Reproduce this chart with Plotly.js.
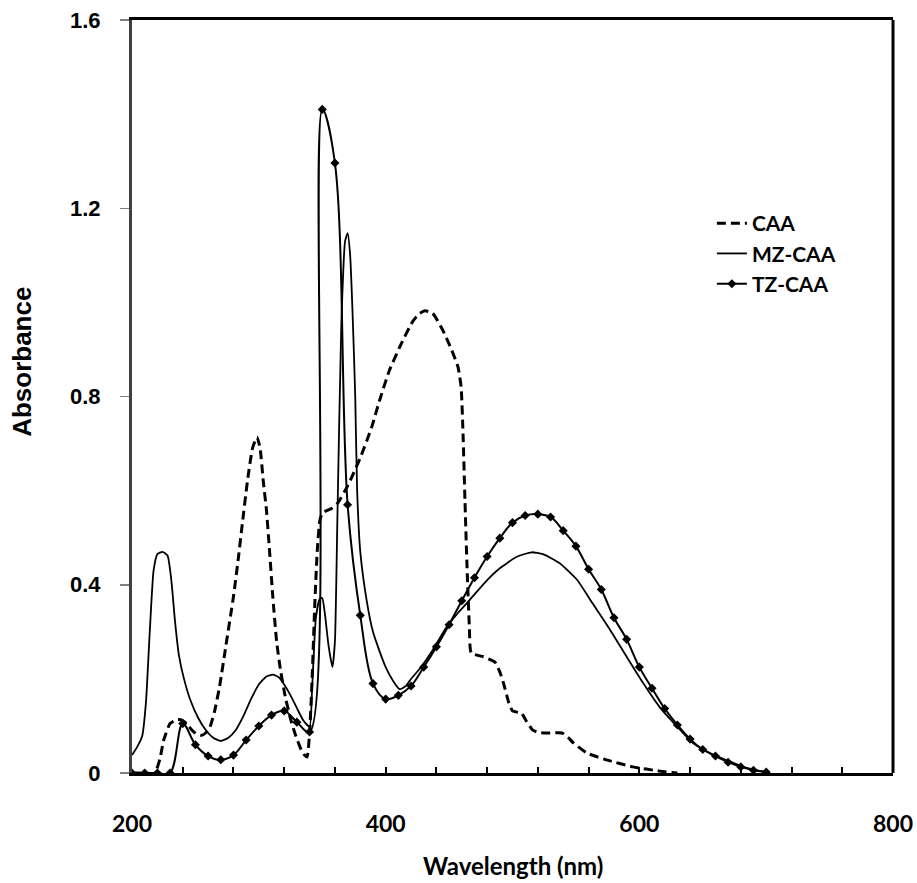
<!DOCTYPE html>
<html>
<head>
<meta charset="utf-8">
<script src="https://cdn.plot.ly/plotly-3.0.1.min.js"></script>
<style>html,body{margin:0;padding:0;background:#fff;}#chart{width:917px;height:883px;}</style>
</head>
<body>
<div id="chart"></div>
<script>
// CAA (dashed)
const caaX = [200,210,218,222,225,230,235,239,243,247,251,255,258,261.5,265,269,274,280,284,287,291,295,298.5,301,303.5,306,308.5,311,314,317,321,325,329,333,336,338,340,342,344,346,348,350,354,358,362,370,380,389,395,403,413,421,426,431,437,445,452,457,459.5,461,462.5,464,466,467.5,477,486,490,493,497,500,507,511,516,521,527,539,544,548,559,574,595,616,630];
const caaY = [0,0,0,0.03,0.07,0.105,0.113,0.113,0.105,0.092,0.082,0.08,0.085,0.098,0.13,0.183,0.27,0.375,0.46,0.53,0.62,0.69,0.714,0.69,0.62,0.559,0.47,0.375,0.28,0.22,0.16,0.115,0.08,0.052,0.038,0.034,0.085,0.2,0.35,0.47,0.535,0.552,0.558,0.563,0.573,0.61,0.67,0.735,0.79,0.856,0.916,0.958,0.975,0.982,0.977,0.941,0.899,0.863,0.82,0.72,0.58,0.45,0.31,0.255,0.247,0.236,0.215,0.19,0.15,0.132,0.127,0.11,0.091,0.086,0.085,0.085,0.075,0.064,0.042,0.028,0.013,0.004,0];

// MZ-CAA (solid)
const mzX = [200,204,208,211,214,217,220,224,228,231,234,237,241,246,252,258,264,270,276,282,288,294,300,306,311,316,320,325,330,335,340,342,345,348,350,352,355,358,360,362,365,368,370,372,374,376,377.5,380,385,390,395,400,406,411,416,420,427,437,448,457,466,480,490,503,515,524,537,551,563,577,590,603,616,630,642,656,669,682,692,700];
const mzY = [0.038,0.055,0.078,0.15,0.30,0.43,0.465,0.47,0.462,0.41,0.32,0.25,0.20,0.155,0.118,0.092,0.075,0.068,0.075,0.092,0.122,0.158,0.188,0.205,0.209,0.203,0.188,0.165,0.138,0.112,0.098,0.18,0.33,0.37,0.372,0.34,0.27,0.225,0.28,0.55,0.95,1.13,1.147,1.10,0.97,0.80,0.6,0.47,0.367,0.30,0.26,0.225,0.195,0.178,0.185,0.20,0.222,0.261,0.31,0.34,0.367,0.41,0.435,0.459,0.469,0.465,0.446,0.41,0.361,0.304,0.247,0.191,0.14,0.098,0.064,0.042,0.027,0.013,0.006,0.002];

// TZ-CAA (solid with diamond markers)
const tzX = [200,210,220,230,240,250,260,270,280,290,300,310,320,330,340,350,360,370,380,390,400,410,420,430,440,450,460,470,480,490,500,510,520,530,540,550,560,570,580,590,600,610,620,630,640,650,660,670,680,690,700];
const tzY = [0,0,0,0,0.105,0.06,0.036,0.028,0.038,0.07,0.1,0.123,0.132,0.108,0.087,1.41,1.296,0.57,0.335,0.19,0.157,0.165,0.185,0.225,0.268,0.315,0.366,0.415,0.46,0.499,0.532,0.547,0.55,0.544,0.515,0.482,0.433,0.39,0.33,0.284,0.225,0.18,0.137,0.102,0.072,0.05,0.036,0.023,0.013,0.006,0.002];

const seriesNames = ['CAA','MZ-CAA','TZ-CAA'];
const xTitle = 'Wavelength (nm)';
const yTitle = 'Absorbance';

const traces = [
  {x: caaX, y: caaY, name: seriesNames[0], legendgroup: 'g1', mode: 'lines',
   line: {color: '#000', width: 3, dash: '9px,5px', shape: 'spline', smoothing: 0.5}},
  {x: mzX, y: mzY, name: seriesNames[1], legendgroup: 'g2', mode: 'lines',
   line: {color: '#000', width: 1.8, shape: 'spline', smoothing: 0.5}},
  {x: tzX, y: tzY, name: seriesNames[2], legendgroup: 'g3', mode: 'lines+markers',
   line: {color: '#000', width: 2, shape: 'spline', smoothing: 1},
   marker: {symbol: 'diamond', size: 7, color: '#000'}}
];

const layout = {
  width: 917, height: 883,
  margin: {l: 132, r: 24, t: 20, b: 110},
  paper_bgcolor: '#fff', plot_bgcolor: '#fff',
  showlegend: true,
  legend: {x: 0.762, y: 0.757, xanchor: 'left', yanchor: 'top', bgcolor: 'rgba(0,0,0,0)',
           tracegroupgap: 12, traceorder: 'normal',
           font: {family: 'Lato, Open Sans, sans-serif', size: 21, color: '#000', weight: 'bold'}},
  xaxis: {range: [200, 800], tick0: 200, dtick: 200, ticks: 'inside', ticklen: 6, tickwidth: 2, tickcolor: '#000',
          minor: {dtick: 40, ticks: 'inside', ticklen: 6, tickwidth: 2, tickcolor: '#000'},
          showline: true, linecolor: '#000', linewidth: 3, mirror: true,
          showgrid: false, zeroline: false, ticklabelstandoff: 28,
          tickfont: {family: 'Lato, Open Sans, sans-serif', size: 23, color: '#000', weight: 'bold'}},
  yaxis: {range: [0, 1.6], tick0: 0, dtick: 0.4, ticks: 'outside', ticklen: 9, tickwidth: 1.5, tickcolor: '#808080',
          showline: true, linecolor: '#404040', linewidth: 3,
          showgrid: false, zeroline: false, ticklabelstandoff: 15,
          tickfont: {family: 'Liberation Sans, Arial, sans-serif', size: 22, color: '#000', weight: 'bold'}},
  shapes: [
    {type: 'line', xref: 'paper', yref: 'paper', x0: 1, x1: 1, y0: 0, y1: 1, line: {color: '#000', width: 3}}
  ],
  annotations: [
    {text: yTitle, xref: 'paper', yref: 'paper', x: 0, y: 0.546, xshift: -110, textangle: -90,
     showarrow: false, xanchor: 'center', yanchor: 'middle',
     font: {family: 'Liberation Sans, Arial, sans-serif', size: 26, color: '#000', weight: 'bold'}},
    {text: xTitle, xref: 'paper', yref: 'paper', x: 0.5, y: 0, yshift: -92,
     showarrow: false, xanchor: 'center', yanchor: 'middle',
     font: {family: 'Lato, Open Sans, sans-serif', size: 24, color: '#000', weight: 'bold'}}
  ]
};

Plotly.newPlot('chart', traces, layout, {displayModeBar: false, staticPlot: true});
</script>
</body>
</html>
